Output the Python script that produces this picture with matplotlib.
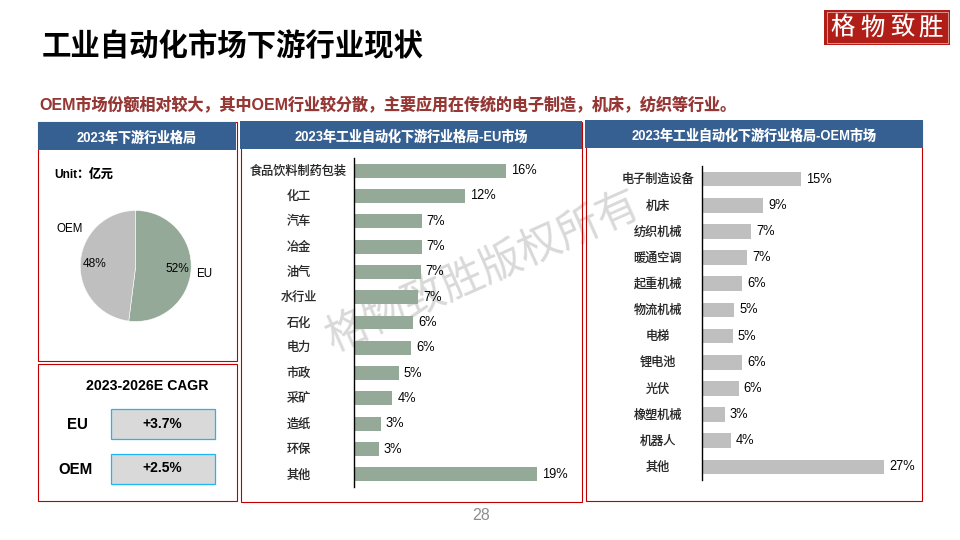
import matplotlib
matplotlib.use("Agg")
import matplotlib.pyplot as plt
from matplotlib.patches import Rectangle

plt.rcParams['font.family'] = ['Liberation Sans', 'Noto Sans CJK SC']
plt.rcParams['text.hinting'] = 'no_autohint'

title = "工业自动化市场下游行业现状"
subtitle = "OEM市场份额相对较大，其中OEM行业较分散，主要应用在传统的电子制造，机床，纺织等行业。"
watermark = "格物致胜版权所有"
logo_chars = ["格", "物", "致", "胜"]
page_no = "28"

pie_labels = ["EU", "OEM"]
pie_values = [52, 48]

eu_names = ["食品饮料制药包装", "化工", "汽车", "冶金", "油气", "水行业", "石化", "电力",
            "市政", "采矿", "造纸", "环保", "其他"]
eu_values = [16.0, 11.65, 7.1, 7.1, 7.0, 6.7, 6.2, 6.0, 4.7, 4.0, 2.8, 2.6, 19.2]

oem_names = ["电子制造设备", "机床", "纺织机械", "暖通空调", "起重机械", "物流机械", "电梯",
             "锂电池", "光伏", "橡塑机械", "机器人", "其他"]
oem_values = [14.7, 9.1, 7.3, 6.7, 6.0, 4.8, 4.6, 6.0, 5.5, 3.4, 4.3, 27.0]

cagr_names = ["EU", "OEM"]
cagr_values = ["+3.7%", "+2.5%"]

RED = "#C00000"
BLUE = "#376092"
GREEN = "#94A998"
GREY = "#BFBFBF"

fig = plt.figure(figsize=(9.6, 5.4), dpi=100)
W, H = 960, 540


def axes_px(x0, y0, x1, y1, **kw):
    return fig.add_axes([x0 / W, 1 - y1 / H, (x1 - x0) / W, (y1 - y0) / H], **kw)


# background layer in pixel coordinates
bg = axes_px(0, 0, W, H)
bg.set_xlim(0, W)
bg.set_ylim(H, 0)
bg.axis("off")
bg.set_zorder(0)

bg.text(42, 47, title, fontsize=21.2, fontweight="bold", va="center", color="black")
bg.text(39.5, 104.5, subtitle, fontsize=11.5, fontweight="bold", va="center", color="#953735")
bg.text(481, 515, page_no, fontsize=11.5, color="#8C8C8C", ha="center", va="center")

# watermark sits behind the bars
bg.text(484, 272, watermark, fontsize=30.5, color="#D9D9D9", rotation=24, ha="center", va="center",
        rotation_mode="anchor", zorder=1)

# logo
bg.add_patch(Rectangle((824, 9.5), 126, 35.5, fc="#B01E17", ec="none", zorder=2))
bg.add_patch(Rectangle((826.5, 12), 121, 30.5, fc="none", ec="#E8C4C0", lw=0.5, zorder=3))
for x, ch in zip([843, 873, 902, 931], logo_chars):
    bg.text(x, 28, ch, fontsize=17.5, color="white", ha="center", va="center", zorder=4)

# panels
panels = [(37.5, 121.5, 236.5, 360.5), (37.5, 363.5, 236.5, 501), (240.5, 122, 581.5, 501.5),
          (585.7, 121, 922.3, 500.5)]
for x0, y0, x1, y1 in panels:
    bg.add_patch(Rectangle((x0, y0), x1 - x0, y1 - y0, fc="none", ec=RED, lw=0.8, zorder=2))

headers = [(38, 122, 236, 150, "2023年下游行业格局", 137, 137.5),
           (240, 121, 582, 149, "2023年工业自动化下游行业格局-EU市场", 411, 136.5),
           (585, 120, 923, 148, "2023年工业自动化下游行业格局-OEM市场", 754, 135.5)]
for x0, y0, x1, y1, txt, tx, ty in headers:
    bg.add_patch(Rectangle((x0, y0), x1 - x0, y1 - y0, fc=BLUE, ec="none", zorder=3))
    bg.text(tx, ty, txt, fontsize=9.4, fontweight="bold", color="white", ha="center", va="center", zorder=4)

# left panel texts
bg.text(54, 174, "Unit：亿元", fontsize=8.6, fontweight="bold", va="center")
bg.text(69.5, 229, pie_labels[1], fontsize=8.4, ha="center", va="center")
bg.text(204, 273.5, pie_labels[0], fontsize=8.4, ha="center", va="center")

# CAGR box
bg.text(147, 387, "2023-2026E CAGR", fontsize=10.3, fontweight="bold", ha="center", va="center")
for name, val, tx, y0, y1 in zip(cagr_names, cagr_values, [77, 76], [408.5, 453.5], [438.5, 483.5]):
    bg.add_patch(Rectangle((110.5, y0), 104, y1 - y0, fc="#D9D9D9", ec="#1FB6F5", lw=0.9, zorder=2))
    bg.text(162.5, (y0 + y1) / 2 + 0.5, val, fontsize=10, fontweight="bold", ha="center", va="center", zorder=3)
    bg.text(tx, (y0 + y1) / 2 + 1.5, name, fontsize=10.8, fontweight="bold", ha="center", va="center")

# pie
ax_pie = axes_px(135.7 - 55.5, 266 - 55.5, 135.7 + 55.5, 266 + 55.5)
ax_pie.set_zorder(1)
ax_pie.pie(pie_values, colors=[GREEN, GREY], startangle=90, counterclock=False, radius=1,
           autopct="%d%%", pctdistance=0.75, textprops={"fontsize": 8.6},
           wedgeprops={"edgecolor": "white", "linewidth": 0.4})
ax_pie.set_xlim(-1, 1)
ax_pie.set_ylim(-1, 1)


def hbars(names, values, color, box, scale, pad, height):
    x0, y0, x1, y1 = box
    ax = axes_px(x0, y0, x1, y1)
    ax.set_zorder(1)
    ax.patch.set_alpha(0)
    bars = ax.barh(range(len(names)), values, color=color, height=height)
    ax.bar_label(bars, labels=[f"{v:.0f}%" for v in values], padding=3.6, fontsize=9.2)
    ax.set_xlim(0, (x1 - x0) / scale)
    ax.set_ylim(len(names) - 0.5, -0.5)
    ax.set_yticks(range(len(names)))
    ax.set_yticklabels(names, fontsize=8.7, ha="center", va="center", color="#2A2A2A")
    ax.tick_params(axis="y", length=0, pad=pad)
    ax.set_xticks([])
    for s in ["top", "right", "bottom"]:
        ax.spines[s].set_visible(False)
    ax.spines["left"].set_linewidth(1)
    return ax


hbars(eu_names, eu_values, GREEN, (354.3, 158, 578, 487), 9.5, 40, 0.55)
hbars(oem_names, oem_values, GREY, (701.7, 166, 920, 480), 6.75, 31.5, 0.56)

fig.savefig("out.png", dpi=100)
